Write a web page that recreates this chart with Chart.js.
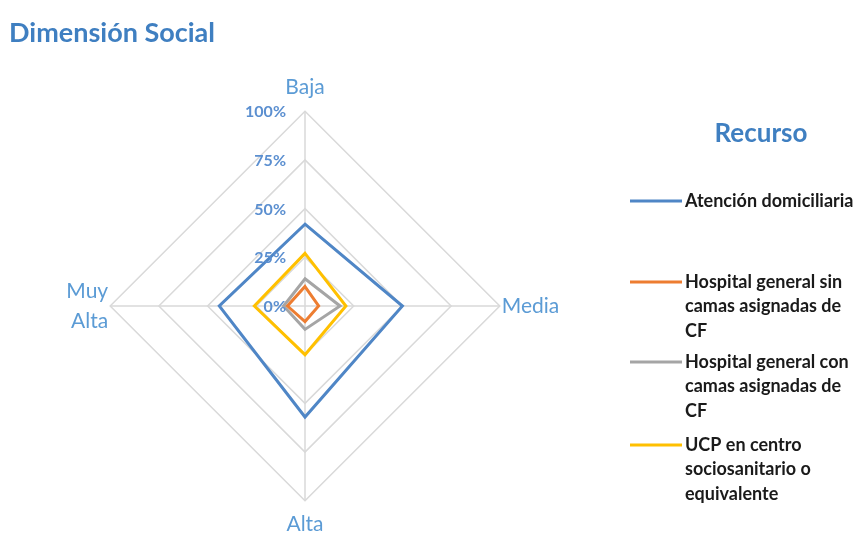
<!DOCTYPE html>
<html lang="es">
<head>
<meta charset="utf-8">
<title>Dimensión Social</title>
<script src="https://cdn.jsdelivr.net/npm/chart.js@4"></script>
<style>
  html, body { margin: 0; padding: 0; background: #fff; }
  #marco { position: relative; width: 860px; height: 538px; }
</style>
</head>
<body>
<div id="marco">
  <canvas id="graficoSocial" width="860" height="538"></canvas>
</div>
<script>
// ejes del radar (en el orden de las agujas del reloj desde arriba)
const categorias = ["Baja", "Media", "Alta", ["Muy", "Alta"]];

// % por recurso en cada nivel
const atencionDomiciliaria = [42, 50, 57, 44];
const hospitalSinCamas = [10, 7, 8, 9];
const hospitalConCamas = [14, 18, 12, 11];
const ucpSociosanitario = [27, 21, 25, 26];

const etiquetasTicks = ["0%", "25%", "50%", "75%", "100%"];

const recursos = [
  { texto: ["Atención domiciliaria"], datos: atencionDomiciliaria, color: "#4f86c6" },
  { texto: ["Hospital general sin", "camas asignadas de", "CF"], datos: hospitalSinCamas, color: "#ed7d31" },
  { texto: ["Hospital general con", "camas asignadas de", "CF"], datos: hospitalConCamas, color: "#a5a5a5" },
  { texto: ["UCP en centro", "sociosanitario o", "equivalente"], datos: ucpSociosanitario, color: "#ffc000" }
];

const azulTitulo = "#3f7fc1";
const azulEtiqueta = "#5b9bd5";

// título, marcas del eje y leyenda dibujados a mano
const extras = {
  id: "extras",
  afterDraw(chart) {
    const ctx = chart.ctx;
    const escala = chart.scales.r;
    ctx.save();

    ctx.fillStyle = azulTitulo;
    ctx.font = "bold 27px Lato";
    ctx.textAlign = "left";
    ctx.textBaseline = "middle";
    ctx.fillText("Dimensión Social", 9, 33);

    // marcas 0%..100% a la izquierda del eje vertical
    ctx.fillStyle = "#5b8fd0";
    ctx.font = "bold 16px Lato";
    ctx.textAlign = "right";
    escala.ticks.forEach((t, i) => {
      const pos = escala.getPointPositionForValue(0, t.value);
      ctx.fillText(etiquetasTicks[i], pos.x - 19, pos.y + 1);
    });

    // leyenda
    ctx.fillStyle = azulTitulo;
    ctx.font = "bold 26px Lato";
    ctx.textAlign = "center";
    ctx.fillText("Recurso", 761, 134);

    const filasY = [201, 282, 362, 445];
    ctx.font = "bold 18px Lato";
    ctx.textAlign = "left";
    recursos.forEach((r, i) => {
      const y = filasY[i];
      ctx.strokeStyle = r.color;
      ctx.lineWidth = 3;
      ctx.beginPath();
      ctx.moveTo(630, y);
      ctx.lineTo(682, y);
      ctx.stroke();
      ctx.fillStyle = "#1a1a1a";
      r.texto.forEach((linea, j) => {
        ctx.fillText(linea, 685, y + j * 24.5);
      });
    });

    ctx.restore();
  }
};

new Chart(document.getElementById("graficoSocial"), {
  type: "radar",
  data: {
    labels: categorias,
    datasets: recursos.map(r => ({
      label: r.texto.join(" "),
      data: r.datos,
      borderColor: r.color,
      backgroundColor: "transparent",
      borderWidth: 3,
      pointRadius: 0,
      fill: false
    }))
  },
  options: {
    responsive: false,
    animation: false,
    layout: { padding: { top: 76, bottom: 0, left: 10, right: 260 } },
    plugins: {
      legend: { display: false },
      tooltip: { enabled: false }
    },
    scales: {
      r: {
        min: 0,
        max: 100,
        ticks: { stepSize: 25, display: false },
        grid: { color: "#d9d9d9", lineWidth: 1.5 },
        angleLines: { color: "#d9d9d9", lineWidth: 1.5 },
        pointLabels: {
          color: azulEtiqueta,
          font: c => ({ family: "Lato", size: 21, lineHeight: c.index === 3 ? 1.45 : 1.2 }),
          padding: c => (c.index % 2 === 0 ? 11 : 2)
        }
      }
    }
  },
  plugins: [extras]
});
</script>
</body>
</html>
